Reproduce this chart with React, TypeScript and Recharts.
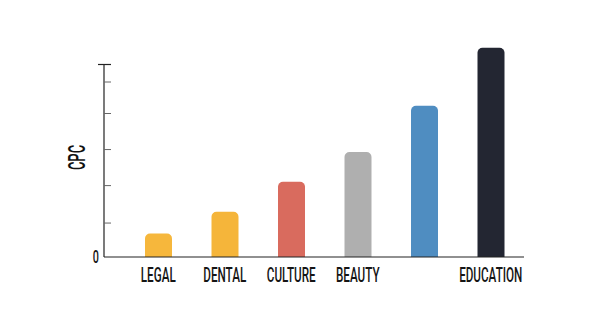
import { BarChart, Bar, XAxis, YAxis, Cell, ReferenceLine } from "recharts";

const categories = ["LEGAL", "DENTAL", "CULTURE", "BEAUTY", "", "EDUCATION"];
const cpcValues = [0.67, 1.29, 2.15, 3.0, 4.32, 5.98];
const barColors = ["#F6B73C", "#F5B53A", "#D96B5E", "#AFAFAF", "#4F8DC1", "#232632"];
const yTicks = [0, 0.97, 2.04, 3.07, 4.1, 5, 5.5];
const axisTop = 5.5;

const data = categories.map((name, i) => ({ name, cpc: cpcValues[i] }));

const FONT = "Roboto, 'DejaVu Sans', sans-serif";

const XTick = ({ x, y, payload }: any) => (
  <g transform={`translate(${x},${y})`}>
    <text transform="scale(0.57,1)" textAnchor="middle" dy={25} fontSize={20.5} fontWeight={500} fill="#151515" fontFamily={FONT}>
      {payload.value}
    </text>
  </g>
);

const YTick = ({ x, y, payload }: any) => {
  const v = payload.value;
  if (v === 0) {
    return (
      <g transform={`translate(${x - 5},${y})`}>
        <text transform="scale(0.6,1)" textAnchor="end" dy={6} fontSize={18} fontWeight={500} fill="#151515" fontFamily={FONT}>
          0
        </text>
      </g>
    );
  }
  const cap = v === axisTop;
  return (
    <line
      x1={cap ? x - 6 : x}
      x2={x + 7}
      y1={y}
      y2={y}
      stroke={cap ? "#222" : "#666"}
      strokeWidth={cap ? 1.2 : 1}
    />
  );
};

const CpcLabel = ({ viewBox }: any) => {
  const cx = viewBox.x + 68.5;
  const cy = viewBox.y + viewBox.height / 2 + 5.5;
  return (
    <g transform={`translate(${cx},${cy}) rotate(-90)`}>
      <text transform="scale(0.54,1)" textAnchor="middle" dy={8.5} fontSize={24} fontWeight={500} fill="#111" fontFamily={FONT}>
        CPC
      </text>
    </g>
  );
};

export default function App() {
  return (
    <BarChart width={592} height={319} data={data} margin={{ top: 39, right: 76, left: 0, bottom: 40 }}>
      <XAxis
        dataKey="name"
        axisLine={{ stroke: "#222", strokeWidth: 1.2 }}
        tickLine={false}
        tickSize={0}
        tickMargin={0}
        height={30}
        padding={{ left: 21, right: 0 }}
        tick={<XTick />}
        interval={0}
      />
      <XAxis xAxisId="n" type="number" domain={[0, 1]} hide />
      <YAxis
        domain={[0, 6]}
        ticks={yTicks}
        interval={0}
        width={96}
        axisLine={false}
        tickLine={false}
        tickSize={0}
        tickMargin={0}
        tick={<YTick />}
        label={<CpcLabel />}
      />
      <ReferenceLine
        xAxisId="n"
        segment={[{ x: 0, y: 0 }, { x: 0, y: axisTop }]}
        stroke="#222"
        strokeWidth={1.2}
      />
      <Bar dataKey="cpc" barSize={27} radius={[5, 5, 0, 0]} isAnimationActive={false}>
        {data.map((d, i) => (
          <Cell key={d.name + i} fill={barColors[i]} />
        ))}
      </Bar>
    </BarChart>
  );
}
